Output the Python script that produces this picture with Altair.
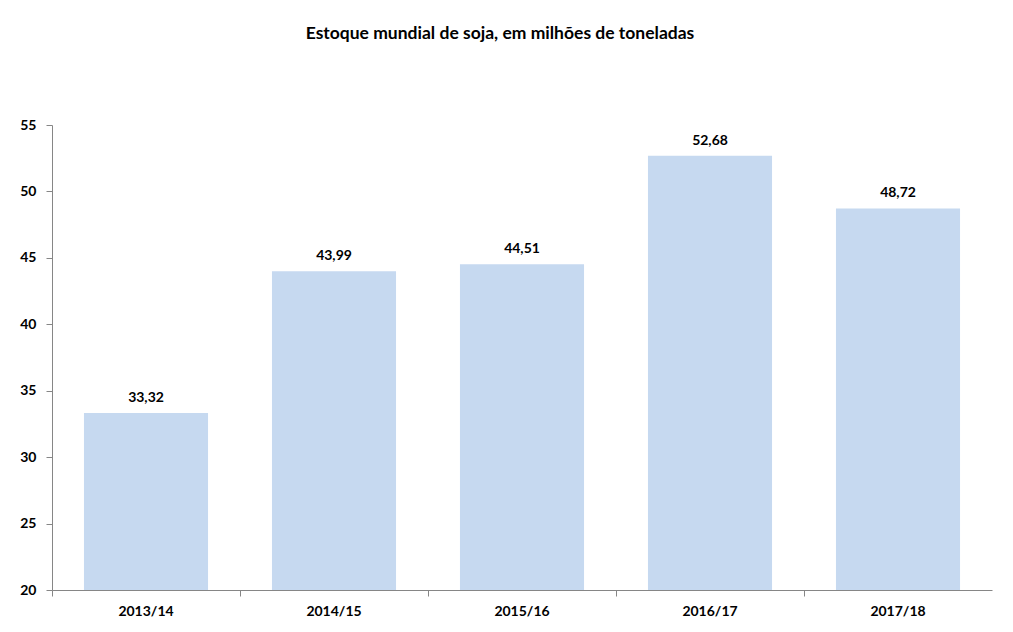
import altair as alt
import pandas as pd

safras = ["2013/14", "2014/15", "2015/16", "2016/17", "2017/18"]
estoque = [33.32, 43.99, 44.51, 52.68, 48.72]
rotulos = ["33,32", "43,99", "44,51", "52,68", "48,72"]

df = pd.DataFrame({"safra": safras, "estoque": estoque, "rotulo": rotulos})

FONT = "Lato"
AXIS_GRAY = "#868686"

x = alt.X(
    "safra:N",
    sort=safras,
    title=None,
    scale=alt.Scale(paddingInner=0, paddingOuter=0),
    axis=alt.Axis(
        labelAngle=0,
        labelFont=FONT,
        labelFontWeight="bold",
        labelFontSize=14,
        labelColor="#000000",
        labelPadding=8,
        bandPosition=0,
        tickColor=AXIS_GRAY,
        tickSize=6,
        domainColor=AXIS_GRAY,
        grid=False,
    ),
)

y = alt.Y(
    "estoque:Q",
    title=None,
    scale=alt.Scale(domain=[20, 55], nice=False, zero=False),
    axis=alt.Axis(
        values=[20, 25, 30, 35, 40, 45, 50, 55],
        labelFont=FONT,
        labelFontWeight="bold",
        labelFontSize=14,
        labelColor="#000000",
        labelPadding=10,
        tickColor=AXIS_GRAY,
        tickSize=6,
        domainColor=AXIS_GRAY,
        grid=False,
    ),
)

bars = alt.Chart(df).mark_bar(
    color="#C6D9F0", width=alt.RelativeBandSize(0.66), clip=True
).encode(x=x, y=y)

labels = alt.Chart(df).mark_text(
    font=FONT, fontWeight="bold", fontSize=14, color="#000000",
    baseline="bottom", dy=-8,
).encode(x=alt.X("safra:N", sort=safras), y="estoque:Q", text="rotulo:N")

chart = (
    (bars + labels)
    .properties(
        width=940,
        height=465,
        title=alt.TitleParams(
            "Estoque mundial de soja, em milhões de toneladas",
            font=FONT,
            fontSize=17.5,
            fontWeight="bold",
            color="#000000",
            anchor="middle",
            dx=-22,
            offset=76,
        ),
        autosize=alt.AutoSizeParams(type="none"),
        padding={"left": 52, "top": 125, "right": 21, "bottom": 42},
        background="#ffffff",
    )
    .configure_view(stroke=None)
)

chart.save("out.html", embed_options={"renderer": "svg", "actions": False})
